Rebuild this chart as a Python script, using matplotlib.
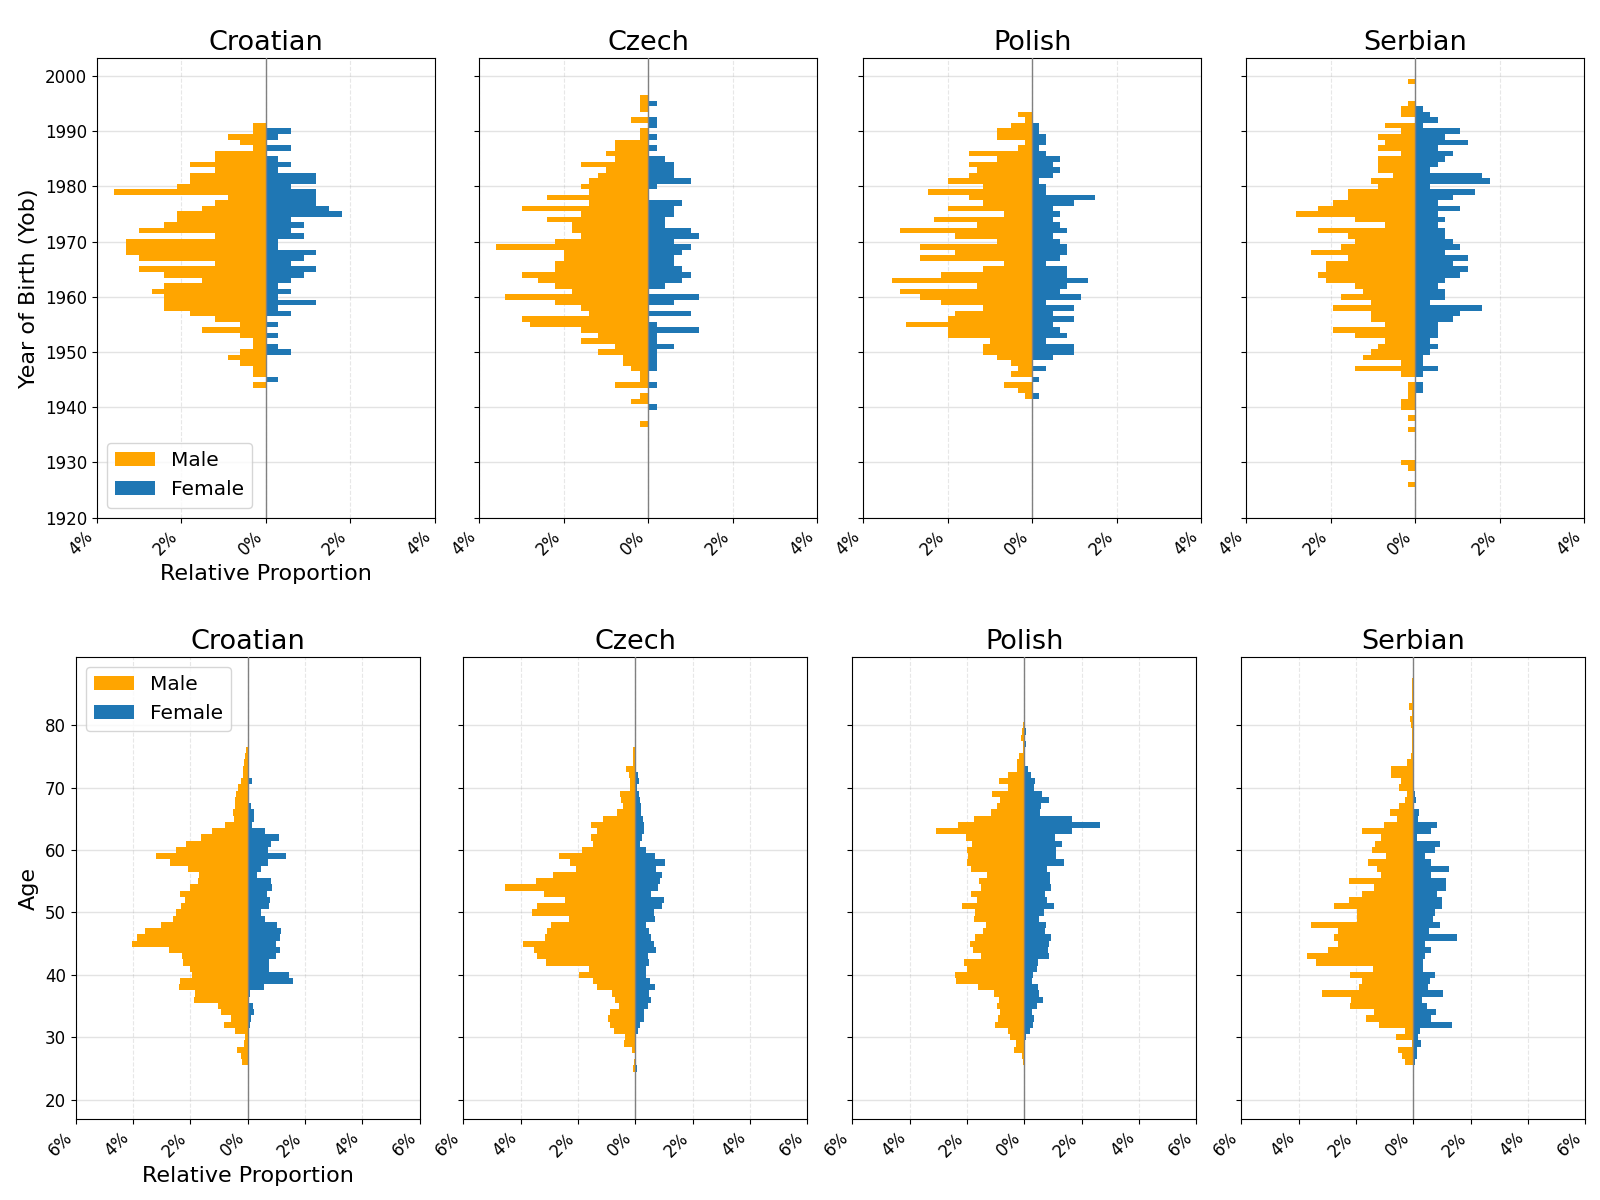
import numpy as np
import matplotlib
matplotlib.use("Agg")
import matplotlib.pyplot as plt

languages = ["Croatian", "Czech", "Polish", "Serbian"]
male_color = "orange"
female_color = "#1f77b4"

# ---------------- Top row: Year of birth (relative proportion, %) ----------------
yob_first_year = {"Croatian": 1944, "Czech": 1937, "Polish": 1942, "Serbian": 1926}

croatian_yob_male = [0.3, 0, 0.3, 0.3, 0.6, 0.9, 0.6, 0.3, 0.3, 0.6, 1.5, 0.6, 1.2, 1.8, 2.4, 2.4,
                     2.4, 2.7, 2.4, 1.5, 2.4, 3.0, 1.2, 3.0, 3.3, 3.3, 3.3, 1.2, 3.0, 2.4, 2.1, 2.1,
                     1.5, 1.2, 0.9, 3.6, 2.1, 1.8, 1.8, 1.2, 1.8, 1.2, 1.2, 0.3, 0.6, 0.9, 0.3, 0.3]
croatian_yob_female = [0, 0.3, 0, 0, 0, 0, 0.6, 0.3, 0, 0.3, 0, 0.3, 0, 0.6, 0.3, 1.2,
                       0.3, 0.6, 0.3, 0.6, 0.9, 1.2, 0.6, 0.9, 1.2, 0.3, 0.3, 0.9, 0.6, 0.9, 0.6, 1.8,
                       1.5, 1.2, 1.2, 1.2, 0.6, 1.2, 1.2, 0.3, 0.6, 0.3, 0, 0.6, 0, 0.3, 0.6, 0]

czech_yob_male = [0.2, 0, 0, 0, 0.4, 0.2, 0, 0.8, 0.2, 0.2,
                  0.4, 0.6, 0.6, 1.2, 0.8, 1.6, 1.2, 1.6, 2.8, 3.0,
                  1.4, 1.6, 2.2, 3.4, 1.8, 2.2, 2.6, 3.0, 2.2, 2.2,
                  2.0, 2.0, 3.6, 2.2, 1.6, 1.8, 1.8, 2.4, 1.6, 3.0,
                  1.4, 2.4, 1.4, 1.6, 1.4, 1.2, 1.0, 1.6, 0.8, 1.0,
                  0.8, 0.8, 0.2, 0.2, 0, 0.4, 0, 0.2, 0.2, 0.2]
czech_yob_female = [0, 0, 0, 0.2, 0, 0, 0, 0.2, 0, 0,
                    0.2, 0.2, 0.2, 0.2, 0.6, 0.2, 0.2, 1.2, 0.2, 0,
                    1.0, 0, 0.6, 1.2, 0, 0.4, 0.8, 1.0, 0.8, 0.6,
                    0.6, 0.8, 1.0, 0.6, 1.2, 1.0, 0.4, 0.4, 0.6, 0.6,
                    0.8, 0, 0, 0.2, 1.0, 0.6, 0.6, 0.6, 0.4, 0,
                    0.2, 0, 0.2, 0, 0.2, 0.2, 0, 0, 0.2, 0]

polish_yob_male = [0.17, 0.33, 0.66, 0, 0.50, 0.33, 0.50, 0.83, 1.16, 1.16,
                   0.99, 1.99, 1.99, 2.98, 1.99, 1.82, 1.16, 2.15, 2.65, 3.14,
                   1.32, 3.31, 2.15, 1.16, 0.66, 2.65, 1.82, 2.65, 0.83, 1.82,
                   3.14, 1.32, 2.32, 0.66, 1.99, 1.16, 1.49, 2.48, 1.16, 1.99,
                   1.49, 1.32, 1.49, 0.83, 1.49, 0.33, 0.17, 0.83, 0.83, 0.50,
                   0.17, 0.33]
polish_yob_female = [0.17, 0, 0, 0.17, 0, 0.33, 0, 0.50, 0.99, 0.99,
                     0.33, 0.83, 0.66, 0.50, 0.99, 0.50, 0.99, 0.33, 1.16, 0.66,
                     0.83, 1.32, 0.83, 0.83, 0.33, 0.66, 0.83, 0.83, 0.66, 0.50,
                     0.83, 0.66, 0.50, 0.66, 0.50, 0.99, 1.49, 0.33, 0.33, 0.17,
                     0.50, 0.66, 0.50, 0.66, 0.33, 0.17, 0.33, 0.33, 0.17, 0.17,
                     0, 0]

serbian_yob_male = [0.18, 0, 0,
                    0.18, 0.35, 0, 0, 0, 0, 0, 0.18, 0, 0.18,
                    0, 0.35, 0.35, 0.18, 0.18, 0.18, 0, 0.35, 1.42, 0.35,
                    1.24, 1.06, 0.89, 0.71, 1.42, 1.95, 0.71, 1.06, 1.06, 1.95,
                    1.06, 1.77, 1.24, 1.42, 2.12, 2.30, 2.12, 2.12, 1.59, 2.48,
                    1.77, 1.42, 1.59, 2.30, 0.71, 1.42, 2.83, 2.30, 1.95, 1.59,
                    1.59, 0.89, 1.06, 0.53, 0.89, 0.89, 0.89, 0.35, 0.89, 0.71,
                    0.89, 0.35, 0.71, 0, 0.35, 0.35, 0.18, 0, 0, 0, 0.18]
serbian_yob_female = [0, 0, 0,
                      0, 0, 0, 0, 0, 0, 0, 0, 0, 0,
                      0, 0, 0, 0, 0.18, 0.18, 0, 0.18, 0.53, 0.18,
                      0.18, 0.35, 0.53, 0.35, 0.53, 0.53, 0.53, 0.89, 1.06, 1.59,
                      0.35, 0.71, 0.71, 0.53, 0.71, 1.06, 1.24, 0.89, 1.24, 0.71,
                      1.06, 0.89, 0.71, 0.71, 0.53, 0.71, 0.53, 1.06, 0.53, 0.89,
                      1.42, 0.35, 1.77, 1.59, 0.35, 0.53, 0.71, 0.89, 0.53, 1.24,
                      0.71, 1.06, 0.18, 0.53, 0.35, 0.18, 0, 0, 0, 0, 0]

# ---------------- Bottom row: Age (relative proportion, %) ----------------
age_first = {"Croatian": 26, "Czech": 25, "Polish": 26, "Serbian": 26}

croatian_age_male = [0.19, 0.22, 0.36, 0.14, 0.08, 0.43, 0.81, 0.60, 0.92, 1.02,
                     1.86, 1.83, 2.38, 2.35, 1.93, 2.03, 2.24, 2.28, 2.73, 4.02,
                     3.85, 3.57, 3.01, 2.59, 2.49, 2.31, 2.17, 2.35, 2.00, 1.72,
                     1.69, 2.07, 2.70, 3.19, 2.49, 2.14, 1.62, 1.23, 0.78, 0.47,
                     0.53, 0.43, 0.43, 0.40, 0.33, 0.22, 0.15, 0.17, 0.12, 0.08,
                     0.05]
croatian_age_female = [0, 0, 0.02, 0.03, 0.05, 0.02, 0.09, 0.13, 0.23, 0.20,
                       0, 0.08, 0.58, 1.59, 1.45, 0.76, 0.76, 1.00, 1.14, 1.00,
                       1.14, 1.17, 1.03, 0.62, 0.48, 0.76, 0.79, 0.69, 0.86, 0.83,
                       0.34, 0.48, 0.72, 1.35, 0.72, 0.83, 1.10, 0.62, 0.15, 0.23,
                       0.23, 0.12, 0, 0.05, 0.05, 0.15, 0, 0, 0, 0,
                       0]

czech_age_male = [0.08, 0.05, 0, 0.12, 0.40, 0.36, 0.75, 0.89, 0.96, 0.89,
                  0.58, 0.72, 0.82, 1.32, 1.49, 1.95, 1.60, 3.12, 3.44, 3.54,
                  3.93, 3.15, 3.08, 2.94, 2.31, 3.61, 3.44, 2.45, 3.19, 4.53,
                  3.47, 2.87, 2.06, 2.27, 2.66, 1.85, 1.46, 1.56, 1.32, 1.56,
                  1.14, 0.65, 0.44, 0.51, 0.54, 0.19, 0.19, 0.22, 0.33, 0.07,
                  0.07, 0.07]
czech_age_female = [0.06, 0, 0, 0, 0.02, 0.02, 0.09, 0.16, 0.31, 0.31,
                    0.45, 0.55, 0.48, 0.69, 0.52, 0.38, 0.38, 0.48, 0.45, 0.73,
                    0.66, 0.55, 0.48, 0.38, 0.69, 0.66, 0.94, 1.01, 0.55, 0.80,
                    0.87, 0.94, 0.73, 1.05, 0.69, 0.38, 0.16, 0.24, 0.31, 0.31,
                    0.27, 0.20, 0.20, 0.16, 0.13, 0.06, 0.13, 0.09, 0, 0,
                    0, 0]

polish_age_male = [0.05, 0.08, 0.36, 0.30, 0.50, 0.57, 1.02, 0.92, 0.85, 0.95,
                   0.88, 1.06, 1.62, 2.38, 2.42, 2.00, 2.10, 1.51, 1.79, 1.90,
                   1.72, 1.44, 1.34, 1.76, 1.72, 2.17, 1.65, 1.86, 1.51, 1.58,
                   1.30, 1.86, 2.00, 1.97, 2.00, 1.83, 2.03, 3.08, 2.31, 1.76,
                   1.16, 0.95, 0.85, 1.13, 0.57, 0.88, 0.57, 0.26, 0.26, 0.19,
                   0.03, 0.03, 0.12, 0.07, 0.03]
polish_age_female = [0, 0, 0, 0.02, 0.06, 0.20, 0.30, 0.34, 0.27, 0.44,
                     0.65, 0.51, 0.48, 0.27, 0.30, 0.44, 0.48, 0.86, 0.83, 0.86,
                     0.93, 0.72, 0.76, 0.51, 0.69, 1.03, 0.79, 0.72, 0.93, 0.90,
                     0.90, 0.79, 1.38, 1.10, 1.10, 1.31, 1.07, 1.65, 2.64, 1.68,
                     0.55, 0.58, 0.86, 0.62, 0.34, 0.37, 0.23, 0.13, 0, 0,
                     0, 0.06, 0, 0.06, 0]

serbian_age_male = [0.30, 0.41, 0.54, 0.05, 0.61, 0.29, 1.20, 1.66, 1.38, 2.22,
                    2.19, 3.17, 1.91, 1.80, 2.22, 1.42, 3.38, 3.70, 2.99, 2.61,
                    2.78, 2.64, 3.56, 1.98, 1.98, 2.78, 2.26, 1.80, 1.38, 2.26,
                    1.13, 1.27, 1.59, 0.96, 1.45, 1.35, 1.13, 1.80, 1.03, 0.57,
                    0.82, 0.50, 0.29, 0.22, 0.50, 0.43, 0.78, 0.78, 0.22, 0.08,
                    0.04, 0.04, 0.04, 0.04, 0.08, 0.12, 0.03, 0.15, 0.03, 0.03,
                    0.03, 0.04]
serbian_age_female = [0.05, 0.14, 0.13, 0.27, 0.16, 0.23, 1.36, 0.62, 0.80, 0.48,
                      0.30, 1.04, 0.51, 0.58, 0.76, 0.34, 0.34, 0.41, 0.62, 0.41,
                      1.52, 0.55, 0.94, 0.69, 0.76, 1.01, 1.01, 0.83, 1.15, 1.15,
                      0.62, 1.25, 0.62, 0.41, 0.76, 0.94, 0.13, 0.62, 0.83, 0.16,
                      0.20, 0.02, 0.09, 0.06, 0.03, 0, 0, 0, 0, 0,
                      0, 0, 0, 0, 0, 0, 0, 0, 0, 0,
                      0, 0]

yob_male = {"Croatian": croatian_yob_male, "Czech": czech_yob_male,
            "Polish": polish_yob_male, "Serbian": serbian_yob_male}
yob_female = {"Croatian": croatian_yob_female, "Czech": czech_yob_female,
              "Polish": polish_yob_female, "Serbian": serbian_yob_female}
age_male = {"Croatian": croatian_age_male, "Czech": czech_age_male,
            "Polish": polish_age_male, "Serbian": serbian_age_male}
age_female = {"Croatian": croatian_age_female, "Czech": czech_age_female,
              "Polish": polish_age_female, "Serbian": serbian_age_female}

top_ticks = [-4, -2, 0, 2, 4]
top_ticklabels = ["4%", "2%", "0%", "2%", "4%"]
bottom_ticks = [-6, -4, -2, 0, 2, 4, 6]
bottom_ticklabels = ["6%", "4%", "2%", "0%", "2%", "4%", "6%"]

W, H = 1600, 1200
fig = plt.figure(figsize=(16, 12), dpi=100)

top_lefts = [96.7, 479.3, 863.3, 1246.3]
top_w = 338
top_top, top_bottom = 58.4, 517.6
bot_lefts = [75.7, 463.3, 852.3, 1241.3]
bot_w = 344
bot_top, bot_bottom = 657.1, 1119.4


def style_axes(ax):
    ax.set_axisbelow(True)
    ax.yaxis.grid(True, color="#b0b0b0", alpha=0.35, linewidth=1.0)
    ax.xaxis.grid(True, color="#b0b0b0", alpha=0.3, linestyle="--", linewidth=0.8)
    ax.axvline(0, color="gray", linewidth=1.0, zorder=3)
    ax.tick_params(labelsize=12)


for i, lang in enumerate(languages):
    # top row
    ax = fig.add_axes([top_lefts[i] / W, 1 - top_bottom / H, top_w / W,
                       (top_bottom - top_top) / H])
    m = np.array(yob_male[lang])
    f = np.array(yob_female[lang])
    years = np.arange(yob_first_year[lang], yob_first_year[lang] + len(m))
    ax.barh(years, -m, height=1.0, color=male_color, label="Male")
    ax.barh(years, f, height=1.0, color=female_color, label="Female")
    style_axes(ax)
    ax.set_xlim(-4, 4)
    ax.set_ylim(1920, 2003.2)
    ax.set_yticks(np.arange(1920, 2001, 10))
    ax.set_xticks(top_ticks)
    ax.set_xticklabels(top_ticklabels, rotation=45, ha="right")
    ax.set_title(lang, fontsize=19.5)
    if i == 0:
        ax.set_ylabel("Year of Birth (Yob)", fontsize=16)
        ax.set_xlabel("Relative Proportion", fontsize=16)
        ax.legend(loc="lower left", fontsize=14.5)
    else:
        ax.tick_params(labelleft=False)

    # bottom row
    ax = fig.add_axes([bot_lefts[i] / W, 1 - bot_bottom / H, bot_w / W,
                       (bot_bottom - bot_top) / H])
    m = np.array(age_male[lang])
    f = np.array(age_female[lang])
    ages = np.arange(age_first[lang], age_first[lang] + len(m))
    ax.barh(ages, -m, height=1.0, color=male_color, label="Male")
    ax.barh(ages, f, height=1.0, color=female_color, label="Female")
    style_axes(ax)
    ax.set_xlim(-6, 6)
    ax.set_ylim(16.85, 90.9)
    ax.set_yticks(np.arange(20, 81, 10))
    ax.set_xticks(bottom_ticks)
    ax.set_xticklabels(bottom_ticklabels, rotation=45, ha="right")
    ax.set_title(lang, fontsize=19.5)
    if i == 0:
        ax.set_ylabel("Age", fontsize=16)
        ax.set_xlabel("Relative Proportion", fontsize=16)
        ax.legend(loc="upper left", fontsize=14.5)
    else:
        ax.tick_params(labelleft=False)

fig.savefig("out.png", dpi=100)
